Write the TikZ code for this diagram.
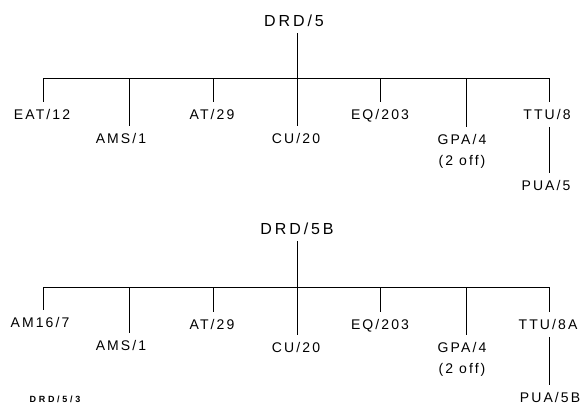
\documentclass[tikz,border=0pt]{standalone}
\usepackage{fontspec}
\setmainfont{Liberation Sans}
\newfontfamily\labfont[LetterSpace=15]{Liberation Sans}
\newfontfamily\rootfont[LetterSpace=18]{Liberation Sans}
\newfontfamily\tagfont[LetterSpace=30]{Liberation Sans}
\begin{document}
\begin{tikzpicture}[x=1bp,y=-1bp,line width=0.9bp,
  lab/.style={font=\fontsize{14bp}{20bp}\selectfont\labfont, inner xsep=0pt, inner ysep=7bp,
              text height=10bp, text depth=0pt, anchor=north},
  note/.style={font=\fontsize{14bp}{20bp}\selectfont\labfont, inner sep=0pt,
              text height=10bp, text depth=0pt, anchor=north},
  rootlab/.style={font=\fontsize{16bp}{18bp}\selectfont\rootfont, inner xsep=0pt, inner ysep=6bp,
              text height=11.5bp, text depth=0pt},
  taglab/.style={font=\fontsize{9bp}{10bp}\selectfont\tagfont\bfseries, inner sep=0pt}]
\useasboundingbox (0,0) rectangle (582,405);

% ---------- top tree ----------
\node[rootlab] (r1) at (294,21) {DRD/5};
\coordinate (t1) at (43,78);
\coordinate (t2) at (129,78);
\coordinate (t3) at (213,78);
\coordinate (t4) at (297,78);
\coordinate (t5) at (380,78);
\coordinate (t6) at (466,78);
\coordinate (t7) at (549,78);
\node[lab] (eat) at (42,102) {EAT/12};
\node[lab] (ams) at (121,126) {AMS/1};
\node[lab] (at) at (212,102) {AT/29};
\node[lab] (cu) at (296,126) {CU/20};
\node[lab] (eq) at (380,102) {EQ/203};
\node[lab] (gpa) at (462,127) {GPA/4};
\node[note] (off) at ([yshift=-3bp]gpa.south) {(2 off)};
\node[lab] (ttu) at (547,102) {TTU/8};
\node[lab] (pua) at (546,173) {PUA/5};
\draw (t1) -- (t7);
\draw (r1.south -| t4) -- (cu.north -| t4);
\draw (t1) -- (eat.north -| t1);
\draw (t2) -- (ams.north -| t2);
\draw (t3) -- (at.north -| t3);
\draw (t5) -- (eq.north -| t5);
\draw (t6) -- (gpa.north -| t6);
\draw (t7) -- (ttu.north -| t7);
\draw (ttu.south -| t7) -- (pua.north -| t7);

% ---------- bottom tree ----------
\node[rootlab] (r2) at (297,229) {DRD/5B};
\coordinate (b1) at (43,287);
\coordinate (b2) at (129,287);
\coordinate (b3) at (213,287);
\coordinate (b4) at (297,287);
\coordinate (b5) at (380,287);
\coordinate (b6) at (466,287);
\coordinate (b7) at (549,287);
\node[lab] (am) at (40,310) {AM16/7};
\node[lab] (ams2) at (121,333) {AMS/1};
\node[lab] (at2) at (212,312) {AT/29};
\node[lab] (cu2) at (296,335) {CU/20};
\node[lab] (eq2) at (380,312) {EQ/203};
\node[lab] (gpa2) at (462,335) {GPA/4};
\node[note] (off2) at ([yshift=-3bp]gpa2.south) {(2 off)};
\node[lab] (ttu2) at (548,312) {TTU/8A};
\node[lab] (pua2) at (550,385) {PUA/5B};
\draw (b1) -- (b7);
\draw (r2.south -| b4) -- (cu2.north -| b4);
\draw (b1) -- (am.north -| b1);
\draw (b2) -- (ams2.north -| b2);
\draw (b3) -- (at2.north -| b3);
\draw (b5) -- (eq2.north -| b5);
\draw (b6) -- (gpa2.north -| b6);
\draw (b7) -- (ttu2.north -| b7);
\draw (ttu2.south -| b7) -- (pua2.north -| b7);

\node[taglab] (tag) at (55,399) {DRD/5/3};
\end{tikzpicture}
\end{document}
